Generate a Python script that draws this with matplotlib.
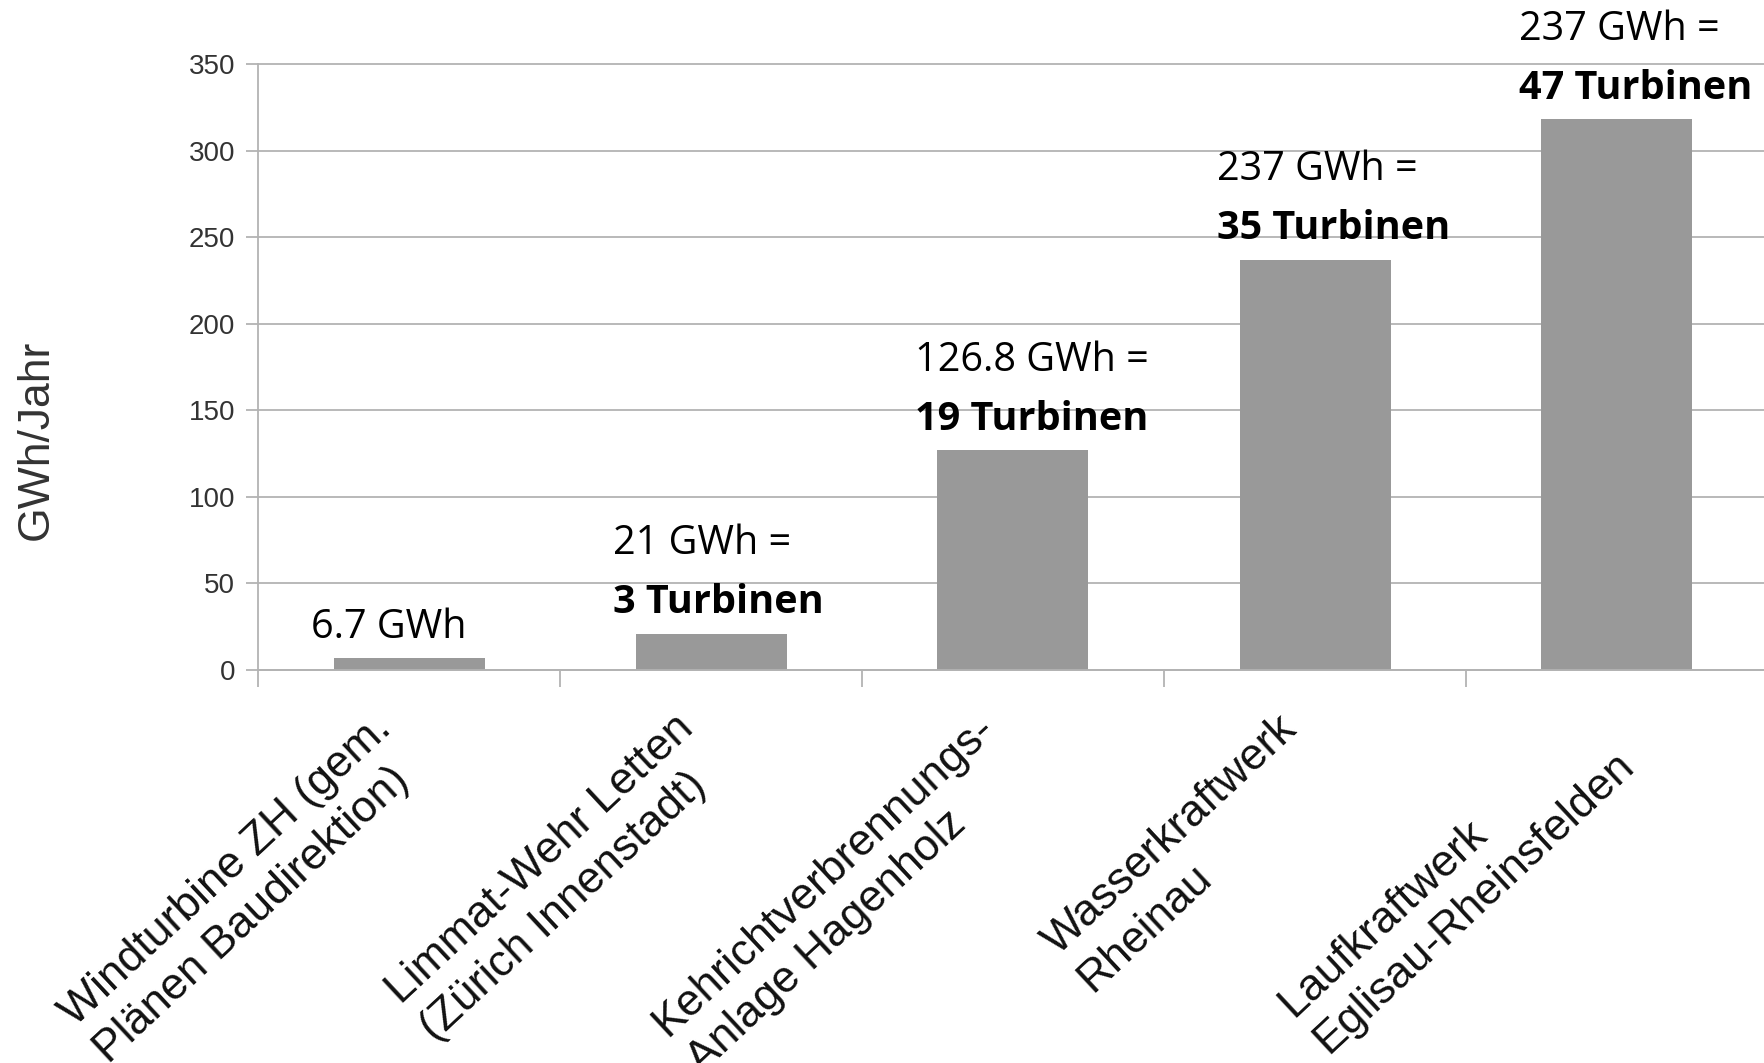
import numpy as np
import matplotlib
matplotlib.use("Agg")
import matplotlib.pyplot as plt
from matplotlib.transforms import ScaledTranslation

# chart data
categories = [
    "Windturbine ZH (gem.\nPlänen Baudirektion)",
    "Limmat-Wehr Letten\n(Zürich Innenstadt)",
    "Kehrichtverbrennungs-\nAnlage Hagenholz",
    "Wasserkraftwerk\nRheinau",
    "Laufkraftwerk\nEglisau-Rheinsfelden",
]
gwh_per_year = [6.7, 21, 126.8, 237, 318]
energy_labels = ["6.7 GWh", "21 GWh =", "126.8 GWh =", "237 GWh =", "237 GWh ="]
turbine_labels = ["", "3 Turbinen", "19 Turbinen", "35 Turbinen", "47 Turbinen"]

W, H = 1765, 1063
GRID = "#b3b3b3"
BAR = "#999999"
SANS = ["Liberation Sans", "DejaVu Sans"]
NOTE = ["Open Sans", "DejaVu Sans"]

fig = plt.figure(figsize=(W / 100, H / 100), dpi=100)
ax = fig.add_axes([258 / W, 1 - 670 / H, 1510 / W, (670 - 64) / H])

x = np.arange(len(categories))
ax.bar(x, gwh_per_year, width=0.5, color=BAR, zorder=2)

ax.set_xlim(-0.5, len(categories) - 0.5)
ax.set_ylim(0, 350)
ax.set_yticks(range(0, 351, 50))
ax.yaxis.grid(True, color=GRID, linewidth=1.3)
ax.set_axisbelow(True)
for gl in ax.get_ygridlines():
    gl.set_clip_on(False)

for side in ("top", "right"):
    ax.spines[side].set_visible(False)
for side in ("left", "bottom"):
    ax.spines[side].set_color(GRID)
    ax.spines[side].set_linewidth(1.3)

ax.tick_params(axis="y", length=8.5, width=1.3, color=GRID, pad=8,
               labelsize=20, labelcolor="#333333")
for lab in ax.get_yticklabels():
    lab.set_family(SANS)

# category labels, ticks sit between the categories
ax.set_xticks(x)
ax.set_xticklabels(categories, rotation=43, ha="right", va="top",
                   rotation_mode="anchor", fontsize=32, color="#111111",
                   family=SANS, linespacing=1.3, multialignment="left")
ax.tick_params(axis="x", which="major", length=0, pad=27)
ax.set_xticks(np.arange(-0.5, len(categories), 1), minor=True)
ax.tick_params(axis="x", which="minor", length=12, width=1.3, color=GRID)
shift = ScaledTranslation(-38 / 100, 0, fig.dpi_scale_trans)
for lab in ax.get_xticklabels():
    lab.set_transform(lab.get_transform() + shift)

fig.text(36 / W, 1 - 440 / H, "GWh/Jahr", rotation=90, ha="center",
         va="center", fontsize=32, color="#333333", family=SANS)

# value notes above the bars
gap = 15
line_step = 42
for i, (v, top, bold) in enumerate(zip(gwh_per_year, energy_labels, turbine_labels)):
    y_top = gap
    if bold:
        ax.annotate(bold, (i - 0.25, v), xytext=(-16, gap), textcoords="offset points",
                    ha="left", va="baseline", fontsize=28.5, fontweight="bold",
                    family=NOTE, color="black", annotation_clip=False)
        y_top = gap + line_step
    ax.annotate(top, (i - 0.25, v), xytext=(-16, y_top), textcoords="offset points",
                ha="left", va="baseline", fontsize=28.5, family=NOTE,
                color="black", annotation_clip=False)

fig.savefig("out.png", dpi=100, facecolor="white")
